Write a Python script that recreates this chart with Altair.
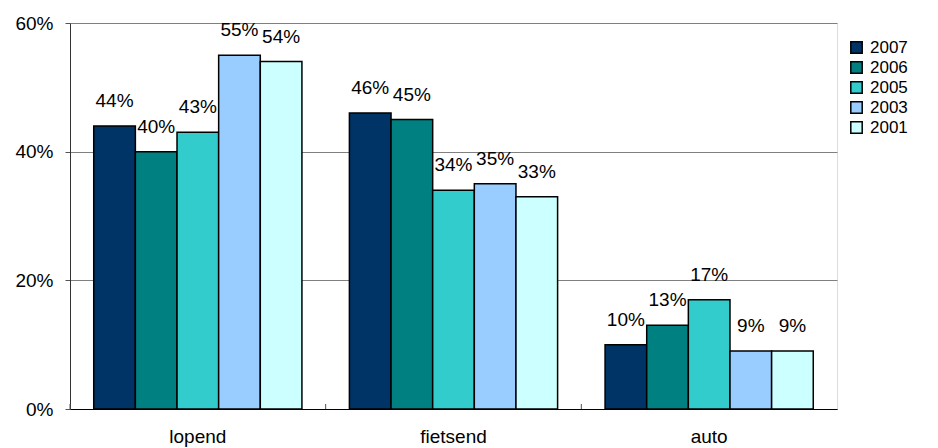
import altair as alt
import pandas as pd

categories = ["lopend", "fietsend", "auto"]
years = ["2007", "2006", "2005", "2003", "2001"]
values = {
    "2007": [44, 46, 10],
    "2006": [40, 45, 13],
    "2005": [43, 34, 17],
    "2003": [55, 35, 9],
    "2001": [54, 33, 9],
}
colors = ["#003366", "#008080", "#33CCCC", "#99CCFF", "#CCFFFF"]

rows = []
for y in years:
    for c, v in zip(categories, values[y]):
        rows.append({"cat": c, "year": y, "value": v / 100.0, "label": f"{v}%"})
df = pd.DataFrame(rows)
cat_df = pd.DataFrame({"cat": categories})

FONT = "Liberation Sans"
FS = 19
W, H = 767, 386

x_enc = alt.X("cat:N", sort=categories,
              scale=alt.Scale(paddingInner=0, paddingOuter=0),
              axis=alt.Axis(title=None, labelAngle=0, ticks=False, labelPadding=18,
                            labelFontSize=FS, labelFont=FONT, labelColor="black",
                            domainColor="black", domainWidth=1, grid=False))
xo_enc = alt.XOffset("year:N", sort=years,
                     scale=alt.Scale(paddingInner=0, paddingOuter=0.57))
y_enc = alt.Y("value:Q",
              scale=alt.Scale(domain=[0, 0.6], nice=False),
              axis=alt.Axis(title=None, format=".0%", values=[0, 0.2, 0.4, 0.6],
                            labelFontSize=FS, labelFont=FONT, labelColor="black",
                            labelPadding=12, tickSize=5, tickColor="#555555",
                            domainColor="#333333", gridColor="#808080", gridWidth=1))

bars = alt.Chart(df).mark_bar(stroke="black", strokeWidth=1.5).encode(
    x=x_enc,
    xOffset=xo_enc,
    y=y_enc,
    color=alt.Color("year:N", sort=years,
                    scale=alt.Scale(domain=years, range=colors),
                    legend=alt.Legend(title=None, orient="none", legendX=778, legendY=16,
                                      symbolType="square", symbolSize=130,
                                      symbolStrokeColor="black", symbolStrokeWidth=1.5,
                                      labelFontSize=17, labelFont=FONT, labelColor="black",
                                      labelOffset=5, rowPadding=1)),
)

labels = alt.Chart(df).mark_text(fontSize=FS, font=FONT, color="black",
                                 baseline="alphabetic", dy=-19).encode(
    x=alt.X("cat:N", sort=categories),
    xOffset=alt.XOffset("year:N", sort=years),
    y="value:Q",
    text="label:N",
)

xticks = alt.Chart(cat_df).mark_rule(color="#555555", strokeWidth=1).encode(
    x=alt.X("cat:N", sort=categories, bandPosition=0),
    y=alt.value(H - 5),
    y2=alt.value(H),
)

chart = alt.layer(bars, labels, xticks).properties(
    width=W, height=H,
    autosize=alt.AutoSizeParams(type="none"),
    padding={"left": 62, "top": 15, "right": 90, "bottom": 40},
).configure_view(stroke="#808080", strokeWidth=1).configure(background="white")

chart.save("out.html", embed_options={"renderer": "svg", "actions": False})
